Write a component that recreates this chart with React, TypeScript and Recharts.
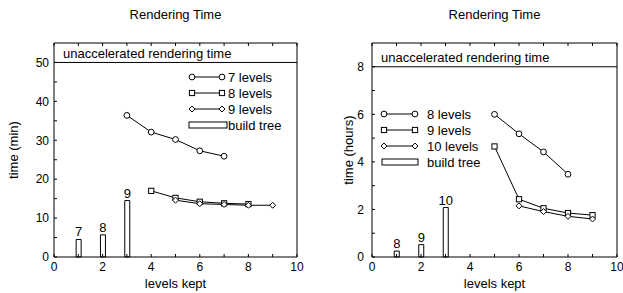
import { Bar, ComposedChart, LabelList, Legend, Line, ReferenceLine, XAxis, YAxis } from "recharts";

const levelsKept = [1, 2, 3, 4, 5, 6, 7, 8, 9];
const xTicks = [0, 1, 2, 3, 4, 5, 6, 7, 8, 9, 10];

// left panel: time in minutes
const minBuildTree = [4.5, 5.7, 14.5, null, null, null, null, null, null];
const minBuildLabels = ["7", "8", "9", null, null, null, null, null, null];
const min7Levels = [null, null, 36.4, 32.1, 30.2, 27.3, 25.9, null, null];
const min8Levels = [null, null, null, 17.0, 15.2, 14.2, 13.8, 13.6, null];
const min9Levels = [null, null, null, null, 14.6, 13.7, 13.5, 13.3, 13.3];
const minTicks = [0, 5, 10, 15, 20, 25, 30, 35, 40, 45, 50];
const minUnaccelerated = 50;

// right panel: time in hours
const hrBuildTree = [0.25, 0.52, 2.08, null, null, null, null, null, null];
const hrBuildLabels = ["8", "9", "10", null, null, null, null, null, null];
const hr8Levels = [null, null, null, null, 6.0, 5.18, 4.42, 3.48, null];
const hr9Levels = [null, null, null, null, 4.65, 2.43, 2.05, 1.85, 1.76];
const hr10Levels = [null, null, null, null, null, 2.15, 1.91, 1.71, 1.6];
const hrTicks = [0, 1, 2, 3, 4, 5, 6, 7, 8];
const hrUnaccelerated = 8;

const FONT = "'Liberation Sans', Arial, Helvetica, sans-serif";
const H = 293;

type Marker = "circle" | "square" | "diamond";
type Series = { key: string; name: string; marker: Marker };

function markerAt(kind: Marker, cx: number, cy: number, key?: string) {
  const common = { fill: "#fff", stroke: "#000", strokeWidth: 1 };
  if (kind === "circle") return <circle key={key} cx={cx} cy={cy} r={2.9} {...common} />;
  if (kind === "square") return <rect key={key} x={cx - 2.6} y={cy - 2.6} width={5.2} height={5.2} {...common} />;
  return <polygon key={key} points={`${cx},${cy - 3} ${cx + 3},${cy} ${cx},${cy + 3} ${cx - 3},${cy}`} {...common} />;
}

function makeRows(build: (number | null)[], labels: (string | null)[], lines: Record<string, (number | null)[]>) {
  return levelsKept.map((x, i) => {
    const row: Record<string, number | string | null> = { x, build: build[i], buildLabel: labels[i] };
    Object.keys(lines).forEach((k) => (row[k] = lines[k][i]));
    return row;
  });
}

function BarTopLabel(props: any) {
  const { x, y, width, value } = props;
  if (value == null || x == null) return null;
  return (
    <text x={x + width / 2} y={y - 3} textAnchor="middle" fontSize={13} fontFamily={FONT} fill="#000">
      {value}
    </text>
  );
}

type PanelProps = {
  width: number;
  rows: Record<string, number | string | null>[];
  series: Series[];
  yLabel: string;
  yMax: number;
  yTicks: number[];
  labelStep: number;
  unaccel: number;
  axisWidth: number;
  marginRight: number;
  yLabelX: number;
  tickGap: number;
  legend: { x1: number; x2: number; textX: number; boxX1: number; boxX2: number; y0: number };
};

function RenderingPanel(p: PanelProps) {
  const plotLeft = p.axisWidth;
  const plotW = p.width - p.axisWidth - p.marginRight;
  const lg = p.legend;

  const legendContent = () => (
    <svg width={p.width} height={H} style={{ display: "block" }}>
      {p.series.map((s, i) => {
        const y = lg.y0 + i * 16;
        return (
          <g key={s.key}>
            <line x1={lg.x1} x2={lg.x2} y1={y} y2={y} stroke="#000" strokeWidth={1} />
            {markerAt(s.marker, lg.x1, y)}
            {markerAt(s.marker, lg.x2, y)}
            <text x={lg.textX} y={y + 4.5} fontSize={13} fontFamily={FONT} fill="#000">
              {s.name}
            </text>
          </g>
        );
      })}
      <rect x={lg.boxX1} y={lg.y0 + 48 - 3} width={lg.boxX2 - lg.boxX1} height={6} fill="#fff" stroke="#000" />
      <text x={lg.textX} y={lg.y0 + 48 + 4.5} fontSize={13} fontFamily={FONT} fill="#000">
        build tree
      </text>
    </svg>
  );

  return (
    <div style={{ position: "relative", width: p.width, height: H }}>
      <div
        style={{
          position: "absolute",
          left: plotLeft,
          width: plotW,
          top: 7,
          textAlign: "center",
          fontFamily: FONT,
          fontSize: 13,
          lineHeight: "16px",
        }}
      >
        Rendering Time
      </div>
      <ComposedChart
        width={p.width}
        height={H}
        data={p.rows}
        margin={{ top: 42, right: p.marginRight - 1, bottom: 0, left: 0 }}
        style={{ fontFamily: FONT }}
      >
        <XAxis
          dataKey="x"
          type="number"
          domain={[0, 10]}
          ticks={xTicks}
          interval={0}
          height={36}
          tickSize={-3}
          tickMargin={8}
          tickFormatter={(v: number) => (v % 2 === 0 ? String(v) : "")}
          tick={{ fill: "#000", fontSize: 12 }}
          axisLine={{ stroke: "#000" }}
          tickLine={{ stroke: "#000" }}
          label={{ value: "levels kept", position: "insideBottom", offset: 5, fill: "#000", fontSize: 13 }}
        />
        <XAxis
          xAxisId="top"
          dataKey="x"
          orientation="top"
          type="number"
          domain={[0, 10]}
          ticks={xTicks}
          interval={0}
          height={1}
          tickSize={-3}
          tickFormatter={() => ""}
          axisLine={{ stroke: "#000" }}
          tickLine={{ stroke: "#000" }}
        />
        <YAxis
          type="number"
          domain={[0, p.yMax]}
          ticks={p.yTicks}
          interval={0}
          width={p.axisWidth}
          tickSize={-3}
          tickMargin={p.tickGap}
          tickFormatter={(v: number) => (v % p.labelStep === 0 ? String(v) : "")}
          tick={{ fill: "#000", fontSize: 12 }}
          axisLine={{ stroke: "#000" }}
          tickLine={{ stroke: "#000" }}
          label={{
            value: p.yLabel,
            angle: -90,
            position: "insideLeft",
            offset: p.yLabelX,
            fill: "#000",
            fontSize: 13,
            style: { textAnchor: "middle" },
          }}
        />
        <YAxis
          yAxisId="right"
          orientation="right"
          type="number"
          domain={[0, p.yMax]}
          ticks={p.yTicks}
          interval={0}
          width={1}
          tickSize={-3}
          tickFormatter={() => ""}
          axisLine={{ stroke: "#000" }}
          tickLine={{ stroke: "#000" }}
        />
        <ReferenceLine
          y={p.unaccel}
          stroke="#000"
          strokeWidth={1}
          label={(lp: any) => (
            <text x={lp.viewBox.x + 9} y={lp.viewBox.y - 4.5} fontSize={13} fontFamily={FONT} fill="#000">
              unaccelerated rendering time
            </text>
          )}
        />
        <Bar dataKey="build" barSize={5} fill="#fff" stroke="#000" strokeWidth={1} isAnimationActive={false}>
          <LabelList dataKey="buildLabel" content={BarTopLabel} />
        </Bar>
        {p.series.map((s) => (
          <Line
            key={s.key}
            dataKey={s.key}
            type="linear"
            stroke="#000"
            strokeWidth={1}
            isAnimationActive={false}
            dot={(d: any) =>
              d.value == null || d.cy == null ? <g key={`${s.key}-${d.index}`} /> : markerAt(s.marker, d.cx, d.cy, `${s.key}-${d.index}`)
            }
            activeDot={false}
          />
        ))}
        <Line xAxisId="top" yAxisId="right" dataKey="frame" stroke="none" dot={false} activeDot={false} isAnimationActive={false} legendType="none" />
        <Legend
          layout="vertical"
          align="center"
          verticalAlign="middle"
          wrapperStyle={{ left: 0, top: 0, width: p.width, height: H, pointerEvents: "none" }}
          content={legendContent}
        />
      </ComposedChart>
    </div>
  );
}

const minRows = makeRows(minBuildTree, minBuildLabels, { l7: min7Levels, l8: min8Levels, l9: min9Levels });
const hrRows = makeRows(hrBuildTree, hrBuildLabels, { l8: hr8Levels, l9: hr9Levels, l10: hr10Levels });

export default function App() {
  return (
    <div style={{ display: "flex", width: 623, height: H, background: "#fff" }}>
      <style>{`body{margin:0;background:#fff}`}</style>
      <RenderingPanel
        width={311}
        rows={minRows}
        series={[
          { key: "l7", name: "7 levels", marker: "circle" },
          { key: "l8", name: "8 levels", marker: "square" },
          { key: "l9", name: "9 levels", marker: "diamond" },
        ]}
        yLabel="time (min)"
        yMax={55}
        yTicks={minTicks}
        labelStep={10}
        unaccel={minUnaccelerated}
        axisWidth={54}
        marginRight={14}
        yLabelX={13}
        tickGap={8}
        legend={{ x1: 192, x2: 222, textX: 228, boxX1: 189, boxX2: 227, y0: 77 }}
      />
      <RenderingPanel
        width={312}
        rows={hrRows}
        series={[
          { key: "l8", name: "8 levels", marker: "circle" },
          { key: "l9", name: "9 levels", marker: "square" },
          { key: "l10", name: "10 levels", marker: "diamond" },
        ]}
        yLabel="time (hours)"
        yMax={9}
        yTicks={hrTicks}
        labelStep={2}
        unaccel={hrUnaccelerated}
        axisWidth={61}
        marginRight={6}
        yLabelX={37}
        tickGap={11}
        legend={{ x1: 73, x2: 104, textX: 116, boxX1: 71, boxX2: 107, y0: 114 }}
      />
    </div>
  );
}
